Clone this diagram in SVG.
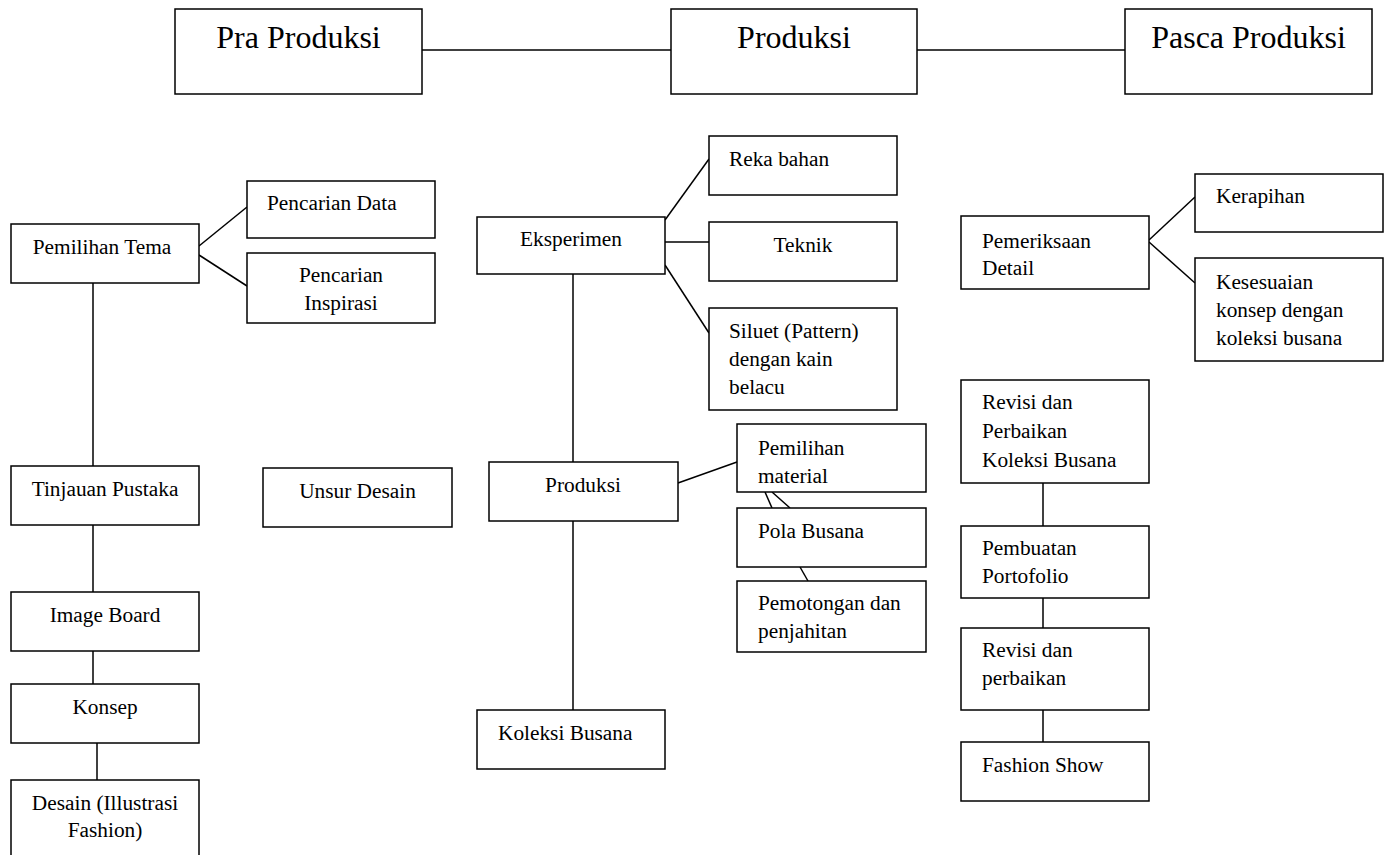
<svg xmlns="http://www.w3.org/2000/svg" width="1390" height="855" viewBox="0 0 1390 855">
<style>
rect{fill:#fff;stroke:#000;stroke-width:1.5}
line{stroke:#000;stroke-width:1.5}
text{font-family:"Liberation Serif","Times New Roman",serif;font-size:21.33px;fill:#000}
.h{font-size:32px}
.c{text-anchor:middle}
</style>
<rect x="0" y="0" width="1390" height="855" style="fill:#fff;stroke:none"/>
<g id="connectors">
<line x1="422" y1="50" x2="671" y2="50"/>
<line x1="917" y1="50" x2="1125" y2="50"/>
<line x1="199" y1="246" x2="247" y2="207"/>
<line x1="199" y1="255" x2="247" y2="286"/>
<line x1="93" y1="283" x2="93" y2="466"/>
<line x1="93" y1="525" x2="93" y2="592"/>
<line x1="93" y1="651" x2="93" y2="684"/>
<line x1="97" y1="743" x2="97" y2="780"/>
<line x1="665" y1="220" x2="709" y2="159"/>
<line x1="665" y1="242" x2="709" y2="242"/>
<line x1="665" y1="265" x2="709" y2="333"/>
<line x1="573" y1="274" x2="573" y2="462"/>
<line x1="678" y1="483" x2="737" y2="462"/>
<line x1="765" y1="492" x2="772" y2="508"/>
<line x1="772" y1="492" x2="790" y2="508"/>
<line x1="800" y1="567" x2="808" y2="581"/>
<line x1="573" y1="521" x2="573" y2="710"/>
<line x1="1149" y1="240" x2="1195" y2="197"/>
<line x1="1149" y1="242" x2="1195" y2="283"/>
<line x1="1043" y1="483" x2="1043" y2="526"/>
<line x1="1043" y1="598" x2="1043" y2="628"/>
<line x1="1043" y1="710" x2="1043" y2="742"/>
</g>
<g id="pra-produksi"><rect x="175" y="9" width="247" height="85"/><text class="h c" x="298.5" y="48">Pra Produksi</text></g>
<g id="produksi-header"><rect x="671" y="9" width="246" height="85"/><text class="h c" x="794" y="48">Produksi</text></g>
<g id="pasca-produksi"><rect x="1125" y="9" width="247" height="85"/><text class="h c" x="1248.5" y="48">Pasca Produksi</text></g>

<g id="pemilihan-tema"><rect x="11" y="224" width="188" height="59"/><text class="c" x="102" y="254">Pemilihan Tema</text></g>
<g id="pencarian-data"><rect x="247" y="181" width="188" height="57"/><text x="267" y="210">Pencarian Data</text></g>
<g id="pencarian-inspirasi"><rect x="247" y="253" width="188" height="70"/><text class="c" x="341" y="282">Pencarian</text><text class="c" x="341" y="309.5">Inspirasi</text></g>
<g id="tinjauan-pustaka"><rect x="11" y="466" width="188" height="59"/><text class="c" x="105" y="496">Tinjauan Pustaka</text></g>
<g id="unsur-desain"><rect x="263" y="468" width="189" height="59"/><text class="c" x="357.5" y="498">Unsur Desain</text></g>
<g id="image-board"><rect x="11" y="592" width="188" height="59"/><text class="c" x="105" y="622">Image Board</text></g>
<g id="konsep"><rect x="11" y="684" width="188" height="59"/><text class="c" x="105" y="714">Konsep</text></g>
<g id="desain"><rect x="11" y="780" width="188" height="90"/><text class="c" x="105" y="810">Desain (Illustrasi</text><text class="c" x="105" y="837">Fashion)</text></g>

<g id="eksperimen"><rect x="477" y="217" width="188" height="57"/><text class="c" x="571" y="246">Eksperimen</text></g>
<g id="reka-bahan"><rect x="709" y="136" width="188" height="59"/><text x="729" y="166">Reka bahan</text></g>
<g id="teknik"><rect x="709" y="222" width="188" height="59"/><text class="c" x="803" y="252">Teknik</text></g>
<g id="siluet"><rect x="709" y="308" width="188" height="102"/><text x="729" y="338">Siluet (Pattern)</text><text x="729" y="366">dengan kain</text><text x="729" y="394">belacu</text></g>
<g id="produksi"><rect x="489" y="462" width="189" height="59"/><text class="c" x="583" y="492">Produksi</text></g>
<g id="pemilihan-material"><rect x="737" y="424" width="189" height="68"/><text x="758" y="455">Pemilihan</text><text x="758" y="483">material</text></g>
<g id="pola-busana"><rect x="737" y="508" width="189" height="59"/><text x="758" y="538">Pola Busana</text></g>
<g id="pemotongan"><rect x="737" y="581" width="189" height="71"/><text x="758" y="610">Pemotongan dan</text><text x="758" y="638">penjahitan</text></g>
<g id="koleksi-busana"><rect x="477" y="710" width="188" height="59"/><text x="498" y="740">Koleksi Busana</text></g>

<g id="pemeriksaan-detail"><rect x="961" y="216" width="188" height="73"/><text x="982" y="248">Pemeriksaan</text><text x="982" y="275">Detail</text></g>
<g id="kerapihan"><rect x="1195" y="174" width="188" height="58"/><text x="1216" y="203">Kerapihan</text></g>
<g id="kesesuaian"><rect x="1195" y="258" width="188" height="103"/><text x="1216" y="289">Kesesuaian</text><text x="1216" y="317">konsep dengan</text><text x="1216" y="345">koleksi busana</text></g>
<g id="revisi-perbaikan-koleksi"><rect x="961" y="380" width="188" height="103"/><text x="982" y="409">Revisi dan</text><text x="982" y="438">Perbaikan</text><text x="982" y="467">Koleksi Busana</text></g>
<g id="pembuatan-portofolio"><rect x="961" y="526" width="188" height="72"/><text x="982" y="555">Pembuatan</text><text x="982" y="583">Portofolio</text></g>
<g id="revisi-perbaikan"><rect x="961" y="628" width="188" height="82"/><text x="982" y="657">Revisi dan</text><text x="982" y="685">perbaikan</text></g>
<g id="fashion-show"><rect x="961" y="742" width="188" height="59"/><text x="982" y="772">Fashion Show</text></g>
</svg>
